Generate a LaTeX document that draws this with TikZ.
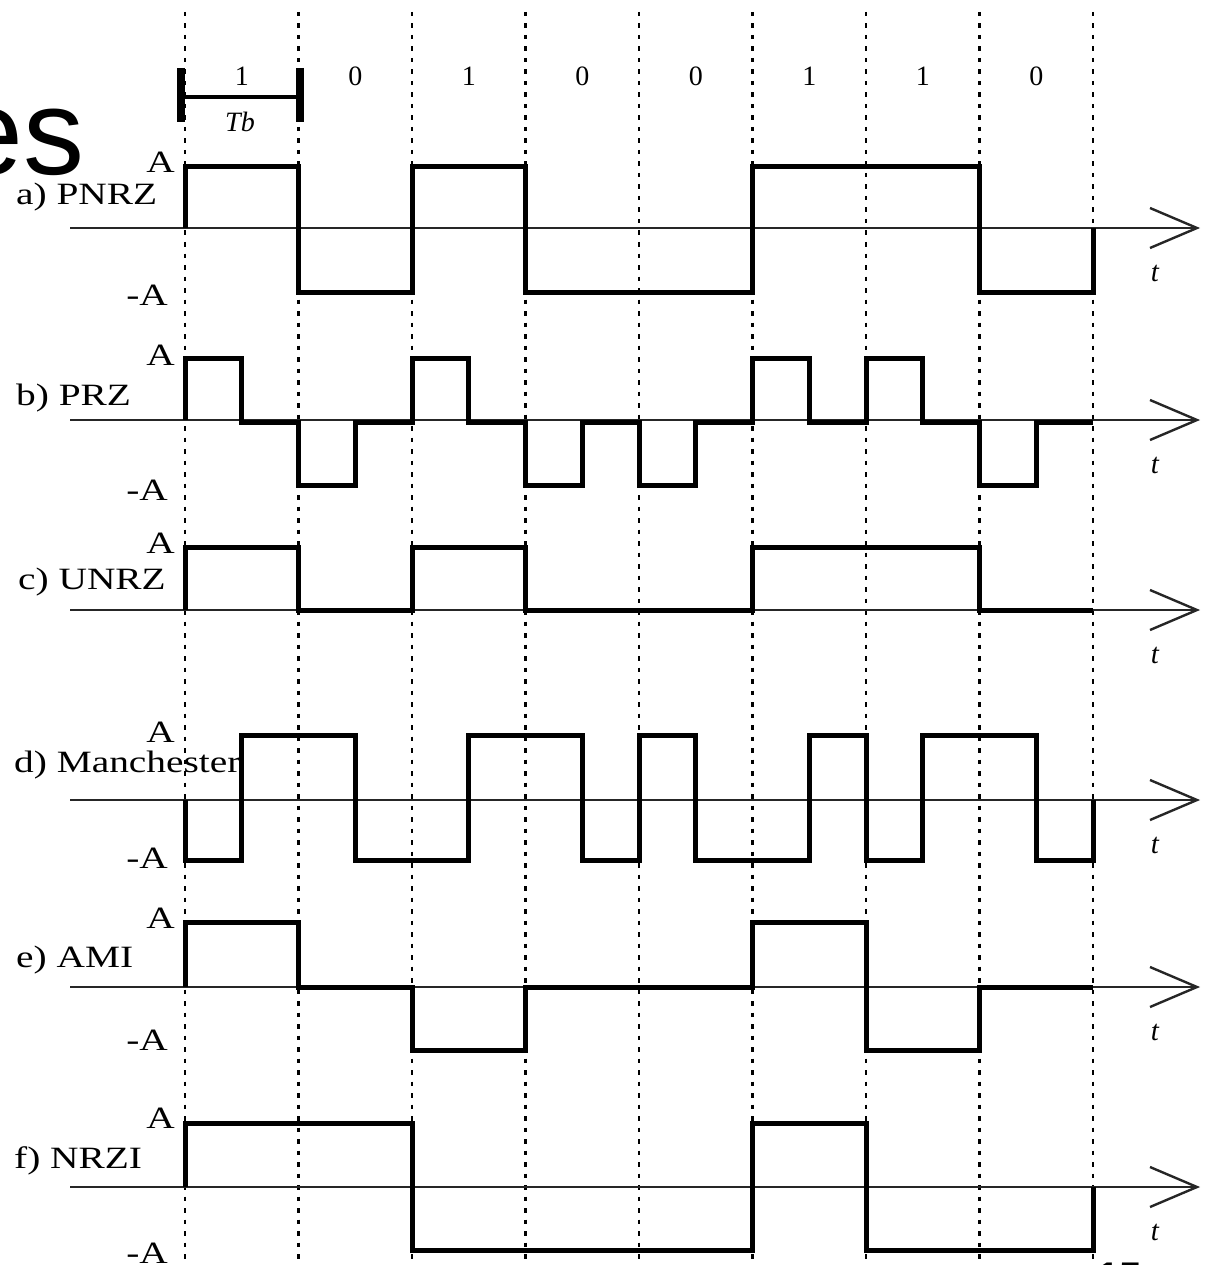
\documentclass[tikz,border=0pt]{standalone}
\usepackage{fontspec}
\setmainfont{Liberation Serif}
\newfontfamily\labfont[FakeStretch=1.27]{Liberation Serif}
\newfontfamily\titlefont{Liberation Sans}
\def\bxa{185}\def\bxb{298.5}\def\bxc{412}\def\bxd{525.5}\def\bxe{639}
\def\bxf{752.5}\def\bxg{866}\def\bxh{979.5}\def\bxi{1093}
\def\bha{241.75}\def\bhb{355.25}\def\bhc{468.75}\def\bhd{582.25}
\def\bhe{695.75}\def\bhf{809.25}\def\bhg{922.75}\def\bhh{1036.25}
\begin{document}
\begin{tikzpicture}[x=1pt,y=-1pt,
  wave/.style={line width=5pt, line join=miter},
  axisline/.style={line width=2.4pt, black!85},
  gridline/.style={line width=2.8pt, dash pattern=on 4.5pt off 7pt, black},
  lbl/.style={font=\labfont\fontsize{31}{31}\selectfont, inner sep=0pt},
  bit/.style={font=\fontsize{28}{28}\selectfont, inner sep=0pt, anchor=base},
  tlbl/.style={font=\fontsize{29}{29}\selectfont\itshape, inner sep=0pt}]
\useasboundingbox (0,0) rectangle (1207,1265);
% title fragment and page number fragment
\node[font=\titlefont\fontsize{122}{122}\selectfont, inner sep=0pt, anchor=base east] (title) at (85,175) {es};
\node[font=\titlefont\bfseries\fontsize{40}{40}\selectfont, inner sep=0pt, anchor=base west] (pgno) at (1097,1290) {15};
% dotted bit boundaries
\foreach \xx in {\bxa,\bxb,\bxc,\bxd,\bxe,\bxf,\bxg,\bxh,\bxi}
  \draw[gridline] (\xx,12) -- (\xx,1265);
% bit labels
\foreach \xx/\bb [count=\k] in {\bha/1,\bhb/0,\bhc/1,\bhd/0,\bhe/0,\bhf/1,\bhg/1,\bhh/0}
  \node[bit] (bit\k) at (\xx,86) {\bb};
\node[tlbl, font=\fontsize{28}{28}\selectfont\itshape] (tb) at (240,122) {Tb};
% Tb marker
\draw[line width=3.5pt] (181,97) -- (300,97);
\draw[line width=8pt] (181,68) -- (181,122);
\draw[line width=8pt] (300,68) -- (300,122);
% axes
\foreach \yy/\nm in {228/a,420/b,610/c,800/d,987/e,1187/f}{
  \draw[axisline] (70,\yy) -- (1197,\yy);
  \draw[axisline, line join=miter] (1150,\yy-20) -- (1197,\yy) -- (1150,\yy+20);
  \node[tlbl] (t\nm) at (1155,\yy+45) {t};
}
% labels
\node[lbl, anchor=base west] (la) at (16,205) {a) PNRZ};
\node[lbl, anchor=base west] (lb) at (16,405) {b) PRZ};
\node[lbl, anchor=base west] (lc) at (18,589) {c) UNRZ};
\node[lbl, anchor=base west] (ld) at (14,772) {d) Manchester};
\node[lbl, anchor=base west] (le) at (16,967) {e) AMI};
\node[lbl, anchor=base west] (lf) at (14,1168) {f) NRZI};
\foreach \yy/\nm in {173/a,365/b,553/c,742/d,928/e,1128/f}
  \node[lbl, anchor=base east] (A\nm) at (175,\yy) {A};
\foreach \yy/\nm in {305/a,500/b,868/d,1050/e,1263/f}
  \node[lbl, anchor=base east] (mA\nm) at (168,\yy) {-A};
% a) PNRZ
\draw[wave] (\bxa,228)--(\bxa,167)--(\bxb,167)--(\bxb,292)--(\bxc,292)--(\bxc,167)--(\bxd,167)--(\bxd,292)--(\bxf,292)--(\bxf,167)--(\bxh,167)--(\bxh,292)--(\bxi,292)--(\bxi,228);
% b) PRZ
\draw[wave] (\bxa,420)--(\bxa,358)--(\bha,358)--(\bha,422)--(\bxb,422)--(\bxb,485)--(\bhb,485)--(\bhb,422)--(\bxc,422)--(\bxc,358)--(\bhc,358)--(\bhc,422)--(\bxd,422)--(\bxd,485)--(\bhd,485)--(\bhd,422)--(\bxe,422)--(\bxe,485)--(\bhe,485)--(\bhe,422)--(\bxf,422)--(\bxf,358)--(\bhf,358)--(\bhf,422)--(\bxg,422)--(\bxg,358)--(\bhg,358)--(\bhg,422)--(\bxh,422)--(\bxh,485)--(\bhh,485)--(\bhh,422)--(\bxi,422);
% c) UNRZ
\draw[wave] (\bxa,610)--(\bxa,547)--(\bxb,547)--(\bxb,610)--(\bxc,610)--(\bxc,547)--(\bxd,547)--(\bxd,610)--(\bxf,610)--(\bxf,547)--(\bxh,547)--(\bxh,610)--(\bxi,610);
% d) Manchester
\draw[wave] (\bxa,800)--(\bxa,860)--(\bha,860)--(\bha,735)--(\bhb,735)--(\bhb,860)--(\bhc,860)--(\bhc,735)--(\bhd,735)--(\bhd,860)--(\bxe,860)--(\bxe,735)--(\bhe,735)--(\bhe,860)--(\bhf,860)--(\bhf,735)--(\bxg,735)--(\bxg,860)--(\bhg,860)--(\bhg,735)--(\bhh,735)--(\bhh,860)--(\bxi,860)--(\bxi,800);
% e) AMI
\draw[wave] (\bxa,987)--(\bxa,922)--(\bxb,922)--(\bxb,987)--(\bxc,987)--(\bxc,1050)--(\bxd,1050)--(\bxd,987)--(\bxf,987)--(\bxf,922)--(\bxg,922)--(\bxg,1050)--(\bxh,1050)--(\bxh,987)--(\bxi,987);
% f) NRZI
\draw[wave] (\bxa,1187)--(\bxa,1123)--(\bxc,1123)--(\bxc,1250)--(\bxf,1250)--(\bxf,1123)--(\bxg,1123)--(\bxg,1250)--(\bxi,1250)--(\bxi,1187);
\end{tikzpicture}
\end{document}
